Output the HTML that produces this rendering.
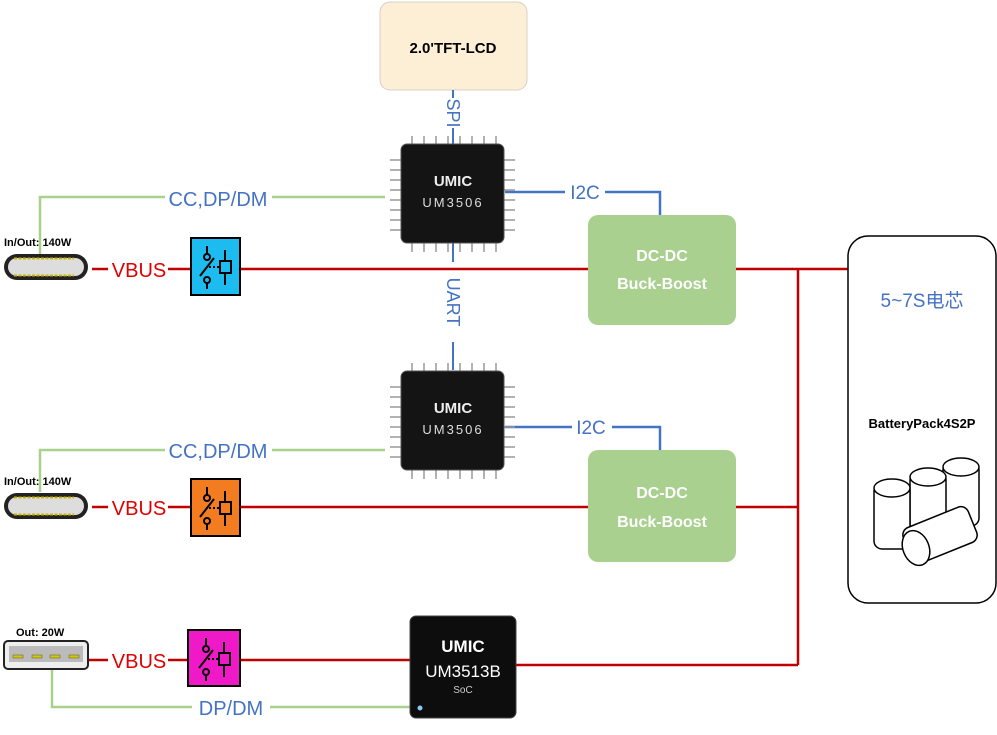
<!DOCTYPE html>
<html><head><meta charset="utf-8"><style>
body{margin:0;background:#fff;}
svg{display:block;font-family:"Liberation Sans","Noto Sans CJK SC",sans-serif;}
</style></head><body>
<svg width="997" height="735" viewBox="0 0 997 735" xmlns="http://www.w3.org/2000/svg">
<!-- LCD -->
<rect x="380" y="2" width="147" height="88" rx="10" fill="#fcefd6" stroke="#d6d0c4"/>
<text x="453" y="53" font-size="15" font-weight="bold" text-anchor="middle" fill="#000">2.0'TFT-LCD</text>
<!-- SPI / UART -->
<line x1="453" y1="90" x2="453" y2="145" stroke="#4472c4" stroke-width="2"/>
<rect x="444" y="98" width="18" height="30" fill="#fff"/>
<text transform="translate(447,113) rotate(90)" font-size="18" fill="#4472c4" text-anchor="middle">SPI</text>
<line x1="453" y1="243" x2="453" y2="370" stroke="#4472c4" stroke-width="2"/>
<rect x="444" y="262" width="18" height="80" fill="#fff"/>
<text transform="translate(447,302) rotate(90)" font-size="18" fill="#4472c4" text-anchor="middle">UART</text>
<!-- green lines -->
<g stroke="#a9d18e" stroke-width="2.5" fill="none">
<polyline points="40,257 40,197 165,197"/><line x1="272" y1="197" x2="385" y2="197"/>
<polyline points="40,492 40,450 165,450"/><line x1="272" y1="450" x2="385" y2="450"/>
<polyline points="52,670 52,707 192,707"/><line x1="270" y1="707" x2="412" y2="707"/>
</g>
<g font-size="20" fill="#4472c4" text-anchor="middle">
<text x="218" y="206">CC,DP/DM</text>
<text x="218" y="458">CC,DP/DM</text>
<text x="231" y="715">DP/DM</text>
</g>
<!-- red lines -->
<g stroke="#c00000" stroke-width="2.5" fill="none">
<line x1="92" y1="269" x2="108" y2="269"/><line x1="168" y1="269" x2="588" y2="269"/>
<line x1="736" y1="269" x2="848" y2="269"/>
<line x1="92" y1="507" x2="108" y2="507"/><line x1="168" y1="507" x2="588" y2="507"/>
<line x1="736" y1="507" x2="798" y2="507"/>
<line x1="798" y1="269" x2="798" y2="665"/>
<line x1="88" y1="660" x2="108" y2="660"/><line x1="168" y1="660" x2="410" y2="660"/>
<line x1="515" y1="665" x2="798" y2="665"/>
</g>
<g font-size="20" fill="#e00000" text-anchor="middle">
<text x="139" y="277">VBUS</text><text x="139" y="515">VBUS</text><text x="139" y="668">VBUS</text>
</g>
<!-- I2C -->
<g stroke="#4472c4" stroke-width="2.5" fill="none">
<polyline points="505,192 565,192"/><polyline points="605,192 660,192 660,215"/>
<polyline points="505,427 572,427"/><polyline points="612,427 660,427 660,450"/>
</g>
<text x="585" y="199" font-size="19" fill="#4472c4" text-anchor="middle">I2C</text>
<text x="591" y="434" font-size="19" fill="#4472c4" text-anchor="middle">I2C</text>
<!-- chips -->
<g id="chip">
<g stroke="#999" stroke-width="1.5">
<line x1="412" y1="136" x2="412" y2="144"/><line x1="424" y1="136" x2="424" y2="144"/><line x1="436" y1="136" x2="436" y2="144"/><line x1="448" y1="136" x2="448" y2="144"/><line x1="460" y1="136" x2="460" y2="144"/><line x1="472" y1="136" x2="472" y2="144"/><line x1="484" y1="136" x2="484" y2="144"/><line x1="496" y1="136" x2="496" y2="144"/>
<line x1="412" y1="243" x2="412" y2="252"/><line x1="424" y1="243" x2="424" y2="252"/><line x1="436" y1="243" x2="436" y2="252"/><line x1="448" y1="243" x2="448" y2="252"/><line x1="460" y1="243" x2="460" y2="252"/><line x1="472" y1="243" x2="472" y2="252"/><line x1="484" y1="243" x2="484" y2="252"/><line x1="496" y1="243" x2="496" y2="252"/>
<line x1="390" y1="160" x2="401" y2="160"/><line x1="390" y1="170" x2="401" y2="170"/><line x1="390" y1="180" x2="401" y2="180"/><line x1="390" y1="190" x2="401" y2="190"/><line x1="390" y1="200" x2="401" y2="200"/><line x1="390" y1="210" x2="401" y2="210"/><line x1="390" y1="220" x2="401" y2="220"/><line x1="390" y1="230" x2="401" y2="230"/>
<line x1="504" y1="160" x2="515" y2="160"/><line x1="504" y1="170" x2="515" y2="170"/><line x1="504" y1="180" x2="515" y2="180"/><line x1="504" y1="190" x2="515" y2="190"/><line x1="504" y1="200" x2="515" y2="200"/><line x1="504" y1="210" x2="515" y2="210"/><line x1="504" y1="220" x2="515" y2="220"/><line x1="504" y1="230" x2="515" y2="230"/>
</g>
<rect x="401" y="144" width="103" height="99" rx="6" fill="#141414" stroke="#555"/>
<text x="453" y="186" font-size="15" font-weight="bold" fill="#eee" text-anchor="middle">UMIC</text>
<text x="453" y="207" font-size="13" fill="#ddd" text-anchor="middle" letter-spacing="2">UM3506</text>
</g>
<use href="#chip" transform="translate(0,227)"/>
<!-- DC-DC -->
<rect x="588" y="215" width="148" height="110" rx="10" fill="#a9d08e"/>
<text x="662" y="261" font-size="16" font-weight="bold" fill="#fff" text-anchor="middle">DC-DC</text>
<text x="662" y="289" font-size="16" font-weight="bold" fill="#fff" text-anchor="middle">Buck-Boost</text>
<rect x="588" y="450" width="148" height="112" rx="10" fill="#a9d08e"/>
<text x="662" y="498" font-size="16" font-weight="bold" fill="#fff" text-anchor="middle">DC-DC</text>
<text x="662" y="527" font-size="16" font-weight="bold" fill="#fff" text-anchor="middle">Buck-Boost</text>
<!-- relays -->
<rect x="191" y="238" width="49" height="57" fill="#1cbcf0" stroke="#000" stroke-width="2"/>
<g id="sym" stroke="#000" stroke-width="2" fill="none">
<line x1="207" y1="246" x2="207" y2="254"/><circle cx="207" cy="257" r="3"/>
<line x1="214" y1="258" x2="200" y2="276"/><circle cx="207" cy="280" r="3"/><line x1="207" y1="283" x2="207" y2="289"/>
<line x1="209" y1="267" x2="220" y2="267" stroke-dasharray="2 2"/>
<rect x="220" y="261" width="11" height="12"/><line x1="225" y1="250" x2="225" y2="261"/><line x1="225" y1="273" x2="225" y2="285"/>
</g>
<rect x="191" y="479" width="49" height="57" fill="#f47c20" stroke="#000" stroke-width="2"/>
<use href="#sym" transform="translate(0,241)"/>
<rect x="188" y="630" width="52" height="56" fill="#f019c8" stroke="#000" stroke-width="2"/>
<use href="#sym" transform="translate(-1,392)"/>
<!-- USB-C -->
<g id="usbc">
<text x="4" y="246" font-size="11" font-weight="bold" fill="#000">In/Out: 140W</text>
<rect x="4" y="254" width="84" height="26" rx="13" fill="#222"/>
<rect x="8" y="258" width="76" height="18" rx="9" fill="#ddd"/>
<line x1="14" y1="258.5" x2="74" y2="258.5" stroke="#c8b400" stroke-width="2" stroke-dasharray="3 1.5"/>
<line x1="14" y1="275.5" x2="74" y2="275.5" stroke="#c8b400" stroke-width="2" stroke-dasharray="3 1.5"/>
</g>
<use href="#usbc" transform="translate(0,239)"/>
<!-- USB-A -->
<text x="16" y="636" font-size="11" font-weight="bold" fill="#000">Out: 20W</text>
<rect x="4" y="641" width="84" height="28" rx="4" fill="#eee" stroke="#222" stroke-width="2"/>
<rect x="9" y="646" width="74" height="16" fill="#bbb"/>
<g fill="#d4c800" stroke="#555" stroke-width="0.5"><rect x="13" y="655" width="10" height="3"/><rect x="32" y="655" width="10" height="3"/><rect x="50" y="655" width="10" height="3"/><rect x="69" y="655" width="10" height="3"/></g>
<!-- UM3513B -->
<rect x="410" y="616" width="106" height="102" rx="6" fill="#0d0d0d" stroke="#444"/>
<text x="463" y="652" font-size="17" font-weight="bold" fill="#fff" text-anchor="middle">UMIC</text>
<text x="463" y="677" font-size="17" fill="#fff" text-anchor="middle">UM3513B</text>
<text x="463" y="693" font-size="10" fill="#ccc" text-anchor="middle">SoC</text>
<circle cx="420" cy="708" r="2.5" fill="#8cc8f0"/>
<!-- battery -->
<rect x="848" y="236" width="148" height="367" rx="20" fill="#fff" stroke="#000" stroke-width="1.5"/>
<text x="922" y="307" font-size="19" fill="#4472c4" text-anchor="middle">5~7S电芯</text>
<text x="922" y="428" font-size="13" font-weight="bold" fill="#000" text-anchor="middle">BatteryPack4S2P</text>
<g stroke="#000" stroke-width="1.5" fill="#fff">
<rect x="943" y="462" width="36" height="64" rx="8"/><ellipse cx="961" cy="467" rx="18" ry="9"/>
<rect x="910" y="472" width="36" height="66" rx="8"/><ellipse cx="928" cy="477" rx="18" ry="9"/>
<rect x="874" y="483" width="36" height="66" rx="8"/><ellipse cx="892" cy="488" rx="18" ry="9"/>
<rect x="905" y="516" width="70" height="38" rx="8" transform="rotate(-22 940 535)"/><ellipse cx="916" cy="548" rx="13" ry="18" transform="rotate(-22 916 548)"/>
</g>
</svg>
</body></html>
